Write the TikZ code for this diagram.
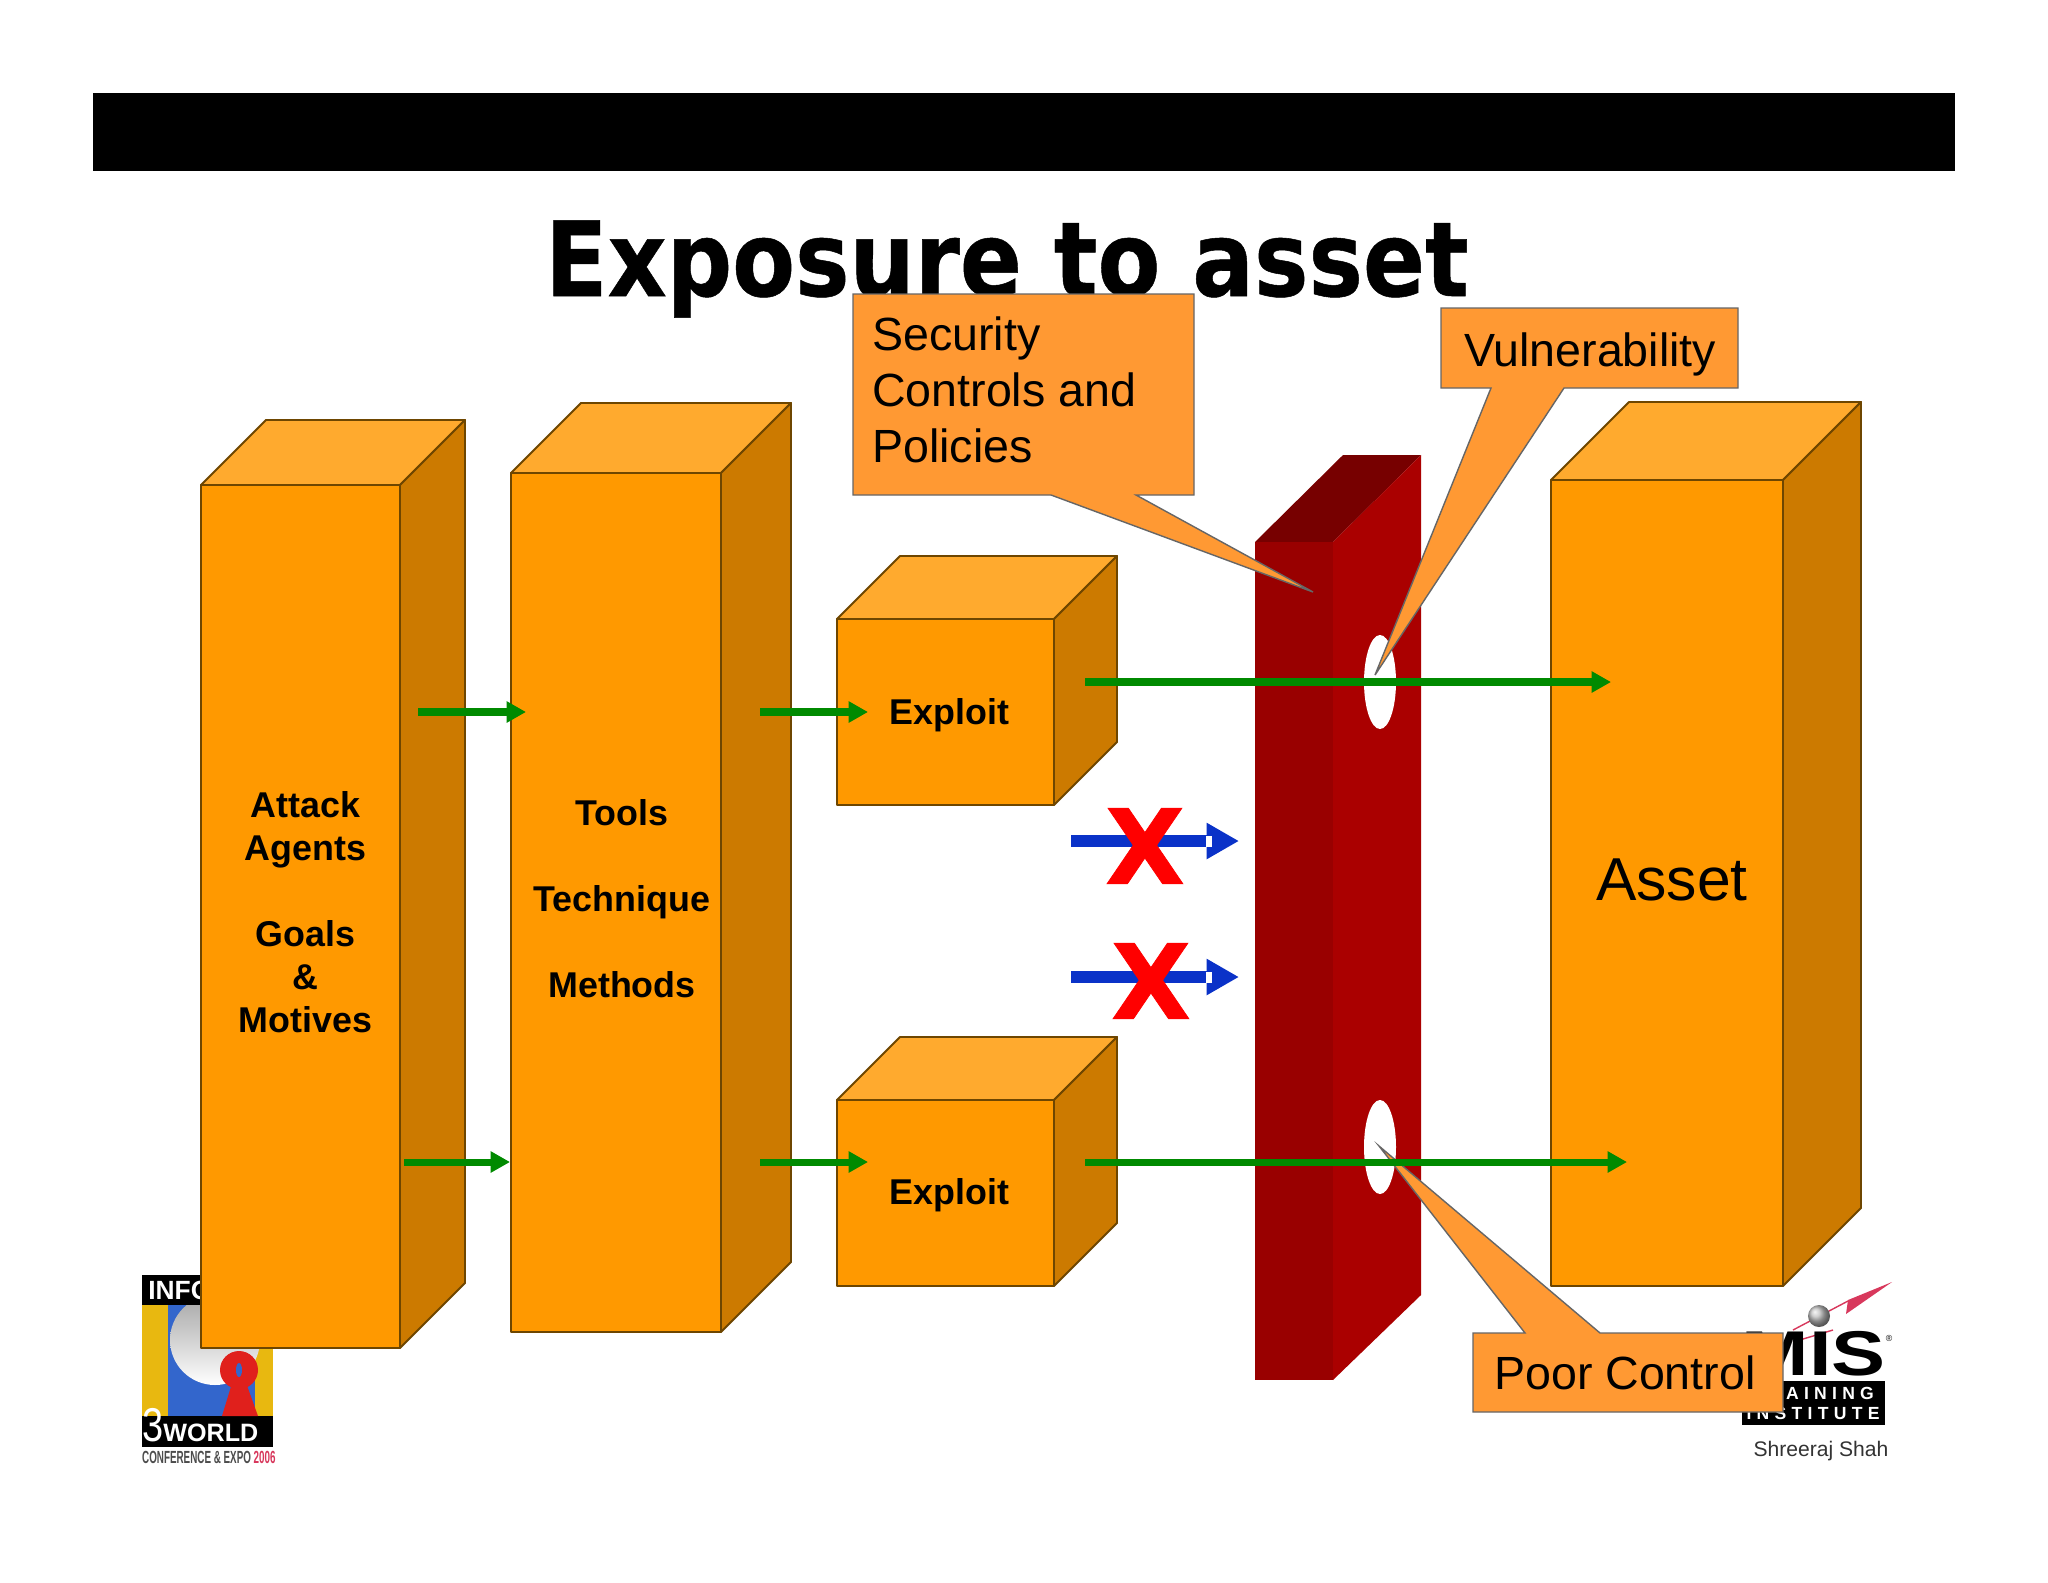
\documentclass[tikz,border=0pt]{standalone}
\usepackage{fontspec}
\setmainfont{Liberation Sans}
\newfontfamily\titlefont[FakeBold=0.5]{DejaVu Sans Bold}
\newfontfamily\crossfont[FakeBold=0.7]{DejaVu Sans Bold}
\usetikzlibrary{arrows.meta}

\definecolor{frontorange}{HTML}{FF9900}
\definecolor{toporange}{HTML}{FFAA2E}
\definecolor{sideorange}{HTML}{CC7A00}
\definecolor{edgebrown}{HTML}{6E4600}
\definecolor{calloutorange}{HTML}{FF9933}
\definecolor{walltop}{HTML}{770000}
\definecolor{wallfront}{HTML}{990000}
\definecolor{wallside}{HTML}{AA0000}
\definecolor{arrowgreen}{HTML}{008A00}
\definecolor{arrowblue}{HTML}{0A32C8}
\definecolor{logoyellow}{HTML}{E8B810}
\definecolor{logoblue}{HTML}{3366CC}
\definecolor{logored}{HTML}{E0201C}
\definecolor{logopink}{HTML}{D8385C}

\tikzset{
	boxedge/.style={draw=edgebrown, line width=1.1pt, line join=round},
	callout/.style={fill=calloutorange, draw=black!60, line width=0.8pt, line join=miter},
	boxlabel/.style={font=\bfseries\fontsize{20.4}{24.5}\selectfont, align=center},
	calloutlabel/.style={font=\fontsize{26.5}{31.8}\selectfont, align=left, anchor=west},
	greenarrow/.style={-{Triangle[length=11pt, width=11.5pt]}, draw=arrowgreen, fill=arrowgreen, line width=4pt},
	bluearrow/.style={-{Triangle[length=18.5pt, width=19.5pt]}, draw=arrowblue, fill=arrowblue, line width=6.8pt},
	redcross/.style={text=red, font=\crossfont\fontsize{59}{59}\selectfont, inner sep=0pt}
}

% left, right, top, bottom, depth
\newcommand{\cuboid}[5]{
	\draw[boxedge, fill=toporange] (#1,#3) -- ({#1+#5},{#3-#5}) -- ({#2+#5},{#3-#5}) -- (#2,#3) -- cycle;
	\draw[boxedge, fill=sideorange] (#2,#3) -- ({#2+#5},{#3-#5}) -- ({#2+#5},{#4-#5}) -- (#2,#4) -- cycle;
	\draw[boxedge, fill=frontorange] (#1,#3) rectangle (#2,#4);
}

\begin{document}
\begin{tikzpicture}[x=0.02cm, y=-0.02cm]
	\useasboundingbox (0,0) rectangle (2048,1582);
	\fill[white] (0,0) rectangle (2048,1582);

	\fill[black] (93,93) rectangle (1955,171);
	\node[font=\titlefont\fontsize{59}{60}\selectfont, transform shape, xscale=0.883, anchor=base] (title) at (1007,296) {Exposure to asset};

	% conference logo
	\fill[logoyellow] (142,1305) rectangle (273,1416);
	\fill[logoblue] (168,1305) rectangle (255,1416);
	\shade[top color=black!35, bottom color=white] (215,1340) circle [radius=45];
	\fill[black] (142,1275) rectangle (273,1305);
	\fill[black] (142,1416) rectangle (273,1447);
	\node[text=white, font=\bfseries\fontsize{15}{15}\selectfont, anchor=west, inner sep=0pt] (logotop) at (148,1290) {INFO};
	\fill[logored] (239,1370) circle [radius=19];
	\fill[logored] (233,1380) -- (245,1380) -- (258,1416) -- (222,1416) -- cycle;
	\fill[logoblue] (239,1370) ellipse [x radius=3, y radius=7];
	\node[text=white, font=\fontsize{27}{27}\selectfont, transform shape, xscale=0.8, anchor=base west, inner sep=0pt] (logothree) at (142,1441) {3};
	\node[text=white, font=\bfseries\fontsize{14.3}{15}\selectfont, anchor=base west, inner sep=0pt] (logoworld) at (163,1441) {WORLD};
	\node[font=\bfseries\fontsize{10}{10}\selectfont, text=black!70, transform shape, xscale=0.56, anchor=west, inner sep=0pt] (logoexpo) at (142,1457) {CONFERENCE \& EXPO \textcolor{logopink}{2006}};

	% training logo
	\fill[logopink] (1892,1282) -- (1848,1300) -- (1846,1314) -- cycle;
	\draw[logopink, line width=0.8pt] (1848,1301) -- (1793,1330);
	\draw[logopink, line width=0.8pt] (1793,1342) -- (1833,1330);
	\shade[ball color=black!25] (1819,1316) circle [radius=11];
	\node[font=\bfseries\fontsize{36}{36}\selectfont, transform shape, xscale=1.28, anchor=base east, inner sep=0pt] (logomis) at (1886,1375) {MIS};
	\node[font=\fontsize{5}{5}\selectfont, inner sep=0pt] (logoreg) at (1889,1338) {®};
	\fill[black] (1742,1381) rectangle (1885,1425);
	\node[text=white, font=\bfseries\fontsize{10}{11.4}\selectfont\addfontfeature{LetterSpace=30}, align=center, inner sep=0pt] (logotrain) at (1813,1403) {TRAINING\\INSTITUTE};
	\node[text=black!80, font=\fontsize{12}{12}\selectfont, inner sep=0pt] (author) at (1821,1451) {Shreeraj Shah};

	\cuboid{201}{400}{485}{1348}{65}
	\cuboid{511}{721}{473}{1332}{70}
	\cuboid{837}{1054}{619}{805}{63}
	\cuboid{837}{1054}{1100}{1286}{63}
	\cuboid{1551}{1783}{480}{1286}{78}

	% wall
	\fill[walltop] (1255,542) -- (1343,455) -- (1421,455) -- (1333,542) -- cycle;
	\fill[wallfront] (1255,542) rectangle (1333,1380);
	\fill[wallside] (1333,542) -- (1421,455) -- (1421,1295) -- (1333,1380) -- cycle;
	\fill[white] (1380,682) ellipse [x radius=16, y radius=47];
	\fill[white] (1380,1147) ellipse [x radius=16, y radius=47];

	\node[boxlabel] (agents) at (305.5,912) {Attack\\Agents\\ \\Goals\\\&\\Motives};
	\node[boxlabel] (tools) at (622,899) {Tools\\ \\Technique\\ \\Methods};
	\node[boxlabel] (exploita) at (949.5,715) {Exploit};
	\node[boxlabel] (exploitb) at (949.5,1195) {Exploit};
	\node[font=\fontsize{34.5}{40}\selectfont] (asset) at (1672,880) {Asset};

	\coordinate (a1) at (418,712);
	\coordinate (a2) at (526,712);
	\coordinate (a3) at (404,1162);
	\coordinate (a4) at (510,1162);
	\coordinate (t1) at (760,712);
	\coordinate (t2) at (868,712);
	\coordinate (t3) at (760,1162);
	\coordinate (t4) at (868,1162);
	\coordinate (e1) at (1085,682);
	\coordinate (e2) at (1611,682);
	\coordinate (e3) at (1085,1162);
	\coordinate (e4) at (1627,1162);
	\coordinate (b1) at (1071,841);
	\coordinate (b2) at (1239,841);
	\coordinate (b3) at (1071,977);
	\coordinate (b4) at (1239,977);

	\draw[greenarrow] (a1) -- (a2);
	\draw[greenarrow] (a3) -- (a4);
	\draw[greenarrow] (t1) -- (t2);
	\draw[greenarrow] (t3) -- (t4);

	\draw[bluearrow] (b1) -- (b2);
	\draw[bluearrow] (b3) -- (b4);
	\fill[white] (1206,835.5) rectangle (1212,846.5);
	\fill[white] (1206,971.5) rectangle (1212,982.5);
	\node[redcross] (crossa) at (1145,846) {X};
	\node[redcross] (crossb) at (1151,981) {X};

	% callouts
	\draw[callout] (853,294) -- (1194,294) -- (1194,495) -- (1136,495) -- (1313,592) -- (1051,495) -- (853,495) -- cycle;
	\node[calloutlabel] (security) at (866,390) {Security\\Controls and\\Policies};
	\draw[callout] (1441,308) -- (1738,308) -- (1738,388) -- (1564,388) -- (1375,675) -- (1491,388) -- (1441,388) -- cycle;
	\node[calloutlabel] (vuln) at (1458,354) {Vulnerability};
	\draw[callout] (1473,1333) -- (1525,1333) -- (1379,1146) -- (1600,1333) -- (1783,1333) -- (1783,1412) -- (1473,1412) -- cycle;
	\node[calloutlabel] (poor) at (1488,1373) {Poor Control};

	\draw[greenarrow] (e1) -- (e2);
	\draw[greenarrow] (e3) -- (e4);
\end{tikzpicture}
\end{document}
